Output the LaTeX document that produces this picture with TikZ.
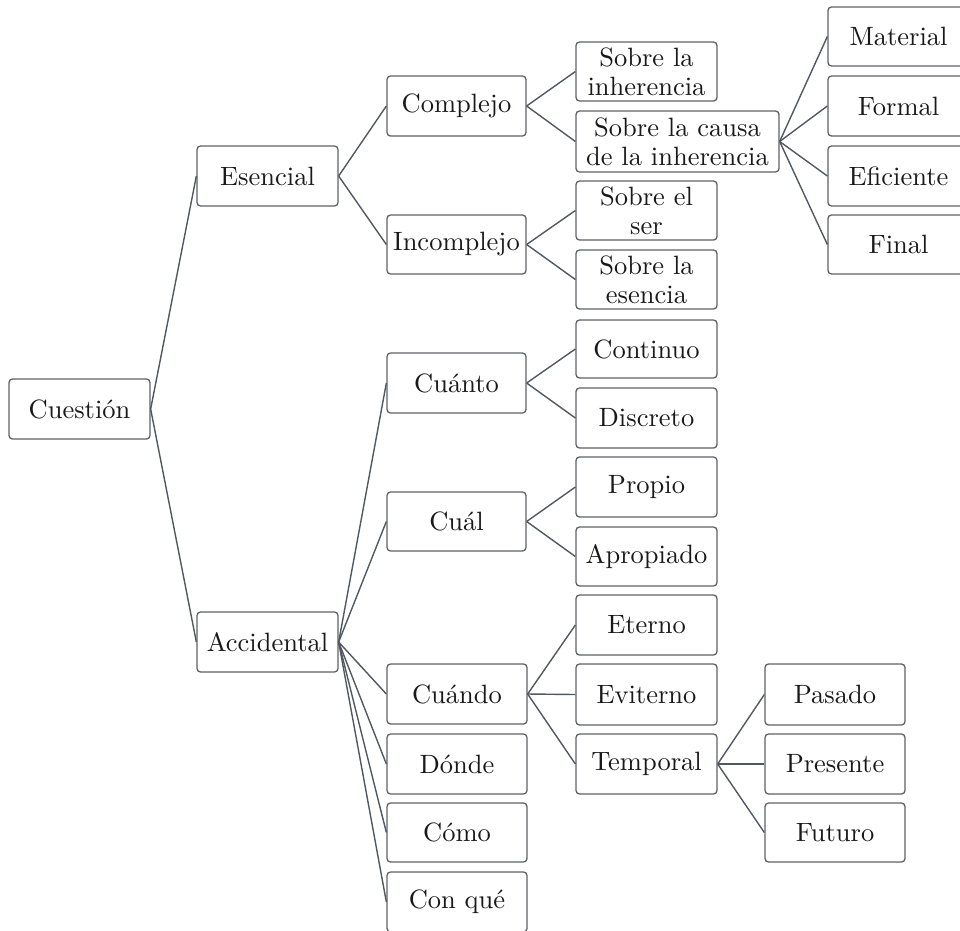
\documentclass[tikz,border=0pt]{standalone}
\usepackage{fontspec}
\setmainfont{lmroman10-regular}[Extension=.otf]
\begin{document}
\begin{tikzpicture}[x=1pt,y=-1pt,
  box/.style={draw=boxgray, line width=1.3pt, rounded corners=3.5pt, fill=white,
    inner sep=0pt, minimum width=141pt, minimum height=60pt, align=center,
    font=\fontsize{26.5}{29}\selectfont, text=black!90},
  link/.style={draw=linkgray, line width=1.4pt}]
\definecolor{boxgray}{HTML}{606266}
\definecolor{linkgray}{HTML}{505862}
\useasboundingbox (0,0) rectangle (960,930);

% root and first level
\node[box] (cuestion) at (79.5,409) {Cuestión};
\node[box] (esencial) at (267.5,176) {Esencial};
\node[box] (accidental) at (267.5,642) {Accidental};

% essential branch
\node[box, minimum width=139pt] (complejo) at (456.5,106) {Complejo};
\node[box, minimum width=139pt, minimum height=59pt] (incomplejo) at (456.5,244.5) {Incomplejo};
\node[box, minimum height=59pt] (inherencia) at (646.5,71.5) {Sobre la\\inherencia};
\node[box, minimum width=203pt, minimum height=61pt] (causa) at (677.5,141.5) {Sobre la causa\\de la inherencia};
\node[box, minimum height=59pt] (ser) at (646.5,210.5) {Sobre el\\ser};
\node[box, minimum height=59pt] (esencia) at (646.5,279.5) {Sobre la\\esencia};
\node[box, minimum height=59pt] (material) at (898.5,36.5) {Material};
\node[box] (formal) at (898.5,106) {Formal};
\node[box] (eficiente) at (898.5,176) {Eficiente};
\node[box, minimum height=59pt] (final) at (898.5,244.5) {Final};

% accidental branch
\node[box, minimum width=139pt] (cuanto) at (456.5,383) {Cuánto};
\node[box, minimum width=139pt, minimum height=59pt] (cual) at (456.5,521.5) {Cuál};
\node[box, minimum width=140pt] (cuando) at (457,694) {Cuándo};
\node[box, minimum width=140pt] (donde) at (457,764) {Dónde};
\node[box, minimum width=140pt, minimum height=59pt] (como) at (457,832.5) {Cómo};
\node[box, minimum width=140pt] (conque) at (457,902) {Con qué};

\node[box, minimum height=58pt] (continuo) at (646.5,349) {Continuo};
\node[box] (discreto) at (646.5,418) {Discreto};
\node[box] (propio) at (646.5,487) {Propio};
\node[box, minimum height=59pt] (apropiado) at (646.5,556.5) {Apropiado};
\node[box] (eterno) at (646.5,625) {Eterno};
\node[box, minimum height=61pt] (eviterno) at (646.5,694.5) {Eviterno};
\node[box] (temporal) at (646.5,764) {Temporal};

\node[box, minimum width=140pt, minimum height=61pt] (pasado) at (835,694.5) {Pasado};
\node[box, minimum width=140pt] (presente) at (835,764) {Presente};
\node[box, minimum width=140pt, minimum height=59pt] (futuro) at (835,832.5) {Futuro};

% connectors
\foreach \p/\c in {cuestion/esencial, cuestion/accidental,
    esencial/complejo, esencial/incomplejo,
    complejo/inherencia, complejo/causa,
    incomplejo/ser, incomplejo/esencia,
    causa/material, causa/formal, causa/eficiente, causa/final,
    accidental/cuanto, accidental/cual, accidental/cuando,
    accidental/donde, accidental/como, accidental/conque,
    cuanto/continuo, cuanto/discreto,
    cual/propio, cual/apropiado,
    cuando/eterno, cuando/eviterno, cuando/temporal,
    temporal/pasado, temporal/presente, temporal/futuro}
  \draw[link] (\p.east) -- (\c.west);
\end{tikzpicture}
\end{document}
